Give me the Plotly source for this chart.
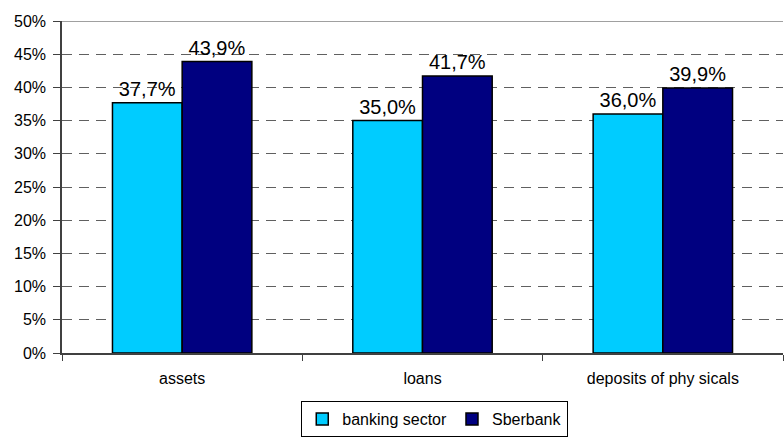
import plotly.graph_objects as go

categories = ["assets", "loans", "deposits of phy sicals"]
banking_sector = [37.7, 35.0, 36.0]
sberbank = [43.9, 41.7, 39.9]
series_names = ["banking sector", "Sberbank"]
y_ticks = list(range(0, 51, 5))

def fmt(v):
    return f"{v:.1f}%".replace(".", ",")

FONT = "Arial, Liberation Sans, sans-serif"

fig = go.Figure()
fig.add_trace(go.Bar(
    x=categories, y=banking_sector, name=series_names[0],
    marker=dict(color="#00CCFF", line=dict(color="black", width=1.5)),
    text=[fmt(v) for v in banking_sector], textposition="outside",
    constraintext="none",
    textfont=dict(size=20, color="black", family=FONT), cliponaxis=False,
))
fig.add_trace(go.Bar(
    x=categories, y=sberbank, name=series_names[1],
    marker=dict(color="#000080", line=dict(color="black", width=1.5)),
    text=[fmt(v) for v in sberbank], textposition="outside",
    constraintext="none",
    textfont=dict(size=20, color="black", family=FONT), cliponaxis=False,
))

fig.update_layout(
    width=784, height=438,
    margin=dict(l=62, r=1, t=21, b=83),
    barmode="group", bargap=0.42, bargroupgap=0,
    plot_bgcolor="white", paper_bgcolor="white",
    font=dict(family=FONT, size=16, color="black"),
    legend=dict(
        orientation="h", x=0.517, xanchor="center", y=-0.145, yanchor="top",
        bordercolor="black", borderwidth=1, font=dict(size=16),
        itemwidth=30, traceorder="normal",
    ),
    showlegend=True,
)
fig.update_xaxes(
    type="category", showline=True, linecolor="#404040", linewidth=1.5,
    ticks="outside", tickson="boundaries", ticklen=6, tickcolor="#404040",
    showgrid=False, tickfont=dict(size=16), ticklabelstandoff=10,
)
fig.update_yaxes(
    range=[0, 50], tickvals=y_ticks, ticktext=[f"{t}%" for t in y_ticks],
    showline=True, linecolor="#404040", linewidth=1.5,
    ticks="outside", ticklen=7, tickcolor="#404040",
    showgrid=True, gridcolor="#606060", griddash="10px,7px", gridwidth=1,
    zeroline=False, tickfont=dict(size=16), ticklabelstandoff=4,
)
fig.add_shape(type="line", xref="paper", yref="y", x0=0, x1=1, y0=50, y1=50,
              line=dict(color="#808080", width=1.5))

fig.write_html("out.html")
